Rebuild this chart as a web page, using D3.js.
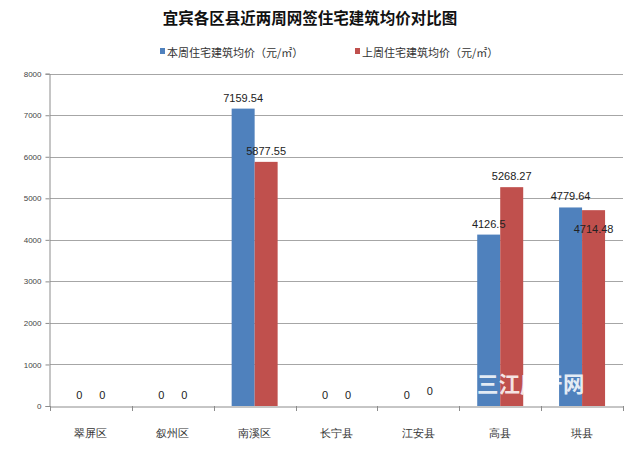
<!DOCTYPE html>
<html><head><meta charset="utf-8">
<script src="https://cdn.jsdelivr.net/npm/d3@7"></script>
<style>body{margin:0;background:#fff;}svg{display:block;font-family:"Noto Sans CJK SC","Noto Sans",sans-serif;}</style>
</head><body><svg id="c" width="640" height="453"></svg>
<script>
const title = "宜宾各区县近两周网签住宅建筑均价对比图";
const categories = ["翠屏区","叙州区","南溪区","长宁县","江安县","高县","珙县"];
const seriesNames = ["本周住宅建筑均价（元/㎡）","上周住宅建筑均价（元/㎡）"];
const thisWeek = [0,0,7159.54,0,0,4126.5,4779.64];
const lastWeek = [0,0,5877.55,0,0,5268.27,4714.48];
const labelText = [["0","0","7159.54","0","0","4126.5","4779.64"],["0","0","5877.55","0","0","5268.27","4714.48"]];
const yTicks = [0,1000,2000,3000,4000,5000,6000,7000,8000];
const colors = ["#4F81BD","#C0504D"];
const watermark = "三江房产网";
// label vertical adjustments (as placed in the original)
const labelDy = [[0,0,0,0,0,0,0],[0,0,0,0,-4,0,30]];

const svg = d3.select("#c");
const m = {left:50, right:17, top:73.7, bottom:47};
const W = 640, H = 453;
const x = d3.scaleBand().domain(categories).range([m.left, W-m.right]).paddingInner(0).paddingOuter(0);
const y = d3.scaleLinear().domain([0,8000]).range([H-m.bottom, m.top]);
const inner = d3.scaleBand().domain([0,1]).range([0, x.bandwidth()]).paddingInner(0).paddingOuter(0.78);

svg.append("text").attr("x",310).attr("y",24).attr("text-anchor","middle")
  .attr("font-size",15.5).attr("font-weight","bold").attr("fill","#111").text(title);

// legend
const legX = [160, 355];
seriesNames.forEach((s,i)=>{
  svg.append("rect").attr("x",legX[i]).attr("y",48).attr("width",5).attr("height",6).attr("fill",colors[i]);
  svg.append("text").attr("x",legX[i]+7).attr("y",56.5).attr("font-size",11).attr("fill","#333").text(s);
});

// gridlines
svg.append("g").selectAll("line").data(yTicks.filter(d=>d>0)).join("line")
  .attr("x1",m.left).attr("x2",W-m.right).attr("y1",d=>Math.round(y(d))+0.5).attr("y2",d=>Math.round(y(d))+0.5)
  .attr("stroke","#a6a6a6").attr("stroke-width",1);

// y axis
const ya = svg.append("g").attr("transform",`translate(${m.left-0.5},0)`)
  .call(d3.axisLeft(y).tickValues(yTicks).tickSize(4).tickPadding(4).tickFormat(d3.format("d")));
ya.select(".domain").attr("stroke","#8c8c8c");
ya.selectAll(".tick line").attr("stroke","#8c8c8c");
ya.selectAll("text").attr("font-size",8).attr("fill","#444").attr("font-family","Liberation Sans, Arial, sans-serif");

// bars
const data = [thisWeek,lastWeek];
data.forEach((vals,si)=>{
  svg.append("g").selectAll("rect").data(vals).join("rect")
    .attr("x",(d,i)=>x(categories[i])+inner(si))
    .attr("width",inner.bandwidth())
    .attr("y",d=>y(d)).attr("height",d=>y(0)-y(d)).attr("fill",colors[si]);
});

// x axis
const xa = svg.append("g").attr("transform",`translate(0,${Math.round(y(0))+0.5})`)
  .call(d3.axisBottom(x).tickSize(0).tickPadding(23));
xa.select(".domain").attr("stroke","#8c8c8c");
xa.selectAll("text").attr("font-size",11).attr("fill","#333");
svg.append("g").selectAll("line").data(d3.range(categories.length+1)).join("line")
  .attr("x1",i=>Math.round(m.left + i*x.bandwidth())+0.5).attr("x2",i=>Math.round(m.left + i*x.bandwidth())+0.5)
  .attr("y1",Math.round(y(0))).attr("y2",Math.round(y(0))+5).attr("stroke","#8c8c8c");

// watermark
svg.append("text").attr("x",477).attr("y",392).attr("font-size",21.5).attr("font-weight","bold")
  .attr("fill","#fff").attr("fill-opacity",0.85).text(watermark);

// data labels
data.forEach((vals,si)=>{
  svg.append("g").selectAll("text").data(vals).join("text")
    .attr("x",(d,i)=>x(categories[i])+inner(si)+inner.bandwidth()/2)
    .attr("y",(d,i)=>y(d)-7+labelDy[si][i])
    .attr("text-anchor","middle").attr("font-size",11).attr("fill","#222")
    .attr("font-family","Liberation Sans, Arial, sans-serif")
    .text((d,i)=>labelText[si][i]);
});
</script></body></html>
